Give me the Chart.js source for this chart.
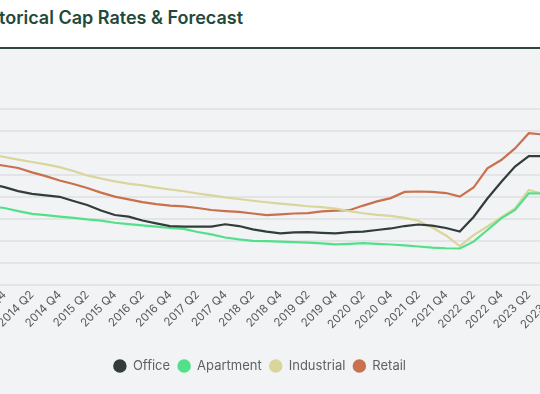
<!DOCTYPE html>
<html>
<head>
<meta charset="utf-8">
<script src="https://cdn.jsdelivr.net/npm/chart.js@4/dist/chart.umd.min.js"></script>
<style>
  html, body { margin: 0; padding: 0; }
  body { width: 540px; height: 394px; overflow: hidden; position: relative; background: #ffffff; font-family: Inter, "Noto Sans", sans-serif; }
  #title { position: absolute; top: 9px; left: -27px; white-space: nowrap; font-size: 18px; line-height: 18px; font-weight: 600; color: #1f4a3c; }
  #rule { position: absolute; top: 47px; left: 0; width: 540px; height: 2px; background: #2f4740; }
  #panel { position: absolute; top: 49px; left: 0; width: 540px; height: 345px; background: #f2f3f5; overflow: hidden; }
  #c { position: absolute; top: 0; left: -60px; }
</style>
</head>
<body>
<div id="title"><span id="cut">His</span>torical Cap Rates &amp; Forecast</div>
<div id="rule"></div>
<div id="panel"><canvas id="c" width="640" height="345"></canvas></div>
<script>
const quarters = [
  "2013 Q1","2013 Q2","2013 Q3","2013 Q4",
  "2014 Q1","2014 Q2","2014 Q3","2014 Q4",
  "2015 Q1","2015 Q2","2015 Q3","2015 Q4",
  "2016 Q1","2016 Q2","2016 Q3","2016 Q4",
  "2017 Q1","2017 Q2","2017 Q3","2017 Q4",
  "2018 Q1","2018 Q2","2018 Q3","2018 Q4",
  "2019 Q1","2019 Q2","2019 Q3","2019 Q4",
  "2020 Q1","2020 Q2","2020 Q3","2020 Q4",
  "2021 Q1","2021 Q2","2021 Q3","2021 Q4",
  "2022 Q1","2022 Q2","2022 Q3","2022 Q4",
  "2023 Q1","2023 Q2","2023 Q3","2023 Q4"
];
const office = [6.75, 6.68, 6.59, 6.45, 6.27, 6.14, 6.07, 6.01, 5.82, 5.64, 5.39, 5.18, 5.11, 4.93, 4.80, 4.68, 4.65, 4.65, 4.65, 4.76, 4.68, 4.53, 4.43, 4.35, 4.39, 4.40, 4.37, 4.35, 4.40, 4.43, 4.50, 4.57, 4.68, 4.75, 4.70, 4.59, 4.43, 5.09, 5.93, 6.68, 7.38, 7.86, 7.86, 7.86];
const apartment = [5.66, 5.62, 5.57, 5.50, 5.36, 5.23, 5.18, 5.11, 5.05, 4.98, 4.93, 4.83, 4.77, 4.71, 4.65, 4.59, 4.55, 4.41, 4.30, 4.16, 4.07, 4.01, 3.99, 3.97, 3.95, 3.93, 3.89, 3.85, 3.87, 3.90, 3.87, 3.84, 3.80, 3.75, 3.70, 3.67, 3.66, 3.97, 4.50, 5.03, 5.41, 6.17, 6.16, 6.14];
const industrial = [8.11, 8.02, 7.93, 7.82, 7.70, 7.59, 7.48, 7.36, 7.18, 6.98, 6.84, 6.71, 6.61, 6.53, 6.43, 6.34, 6.26, 6.16, 6.07, 5.98, 5.91, 5.83, 5.76, 5.70, 5.64, 5.58, 5.54, 5.47, 5.36, 5.26, 5.19, 5.14, 5.05, 4.92, 4.61, 4.25, 3.77, 4.27, 4.66, 5.07, 5.48, 6.32, 6.14, 6.09];
const retail = [7.73, 7.64, 7.52, 7.42, 7.32, 7.12, 6.95, 6.75, 6.59, 6.41, 6.20, 6.02, 5.89, 5.77, 5.68, 5.61, 5.57, 5.50, 5.41, 5.36, 5.32, 5.25, 5.18, 5.21, 5.25, 5.27, 5.35, 5.38, 5.40, 5.61, 5.80, 5.95, 6.23, 6.25, 6.23, 6.18, 6.02, 6.43, 7.30, 7.68, 8.21, 8.90, 8.84, 8.82];
const seriesNames = ["Office", "Apartment", "Industrial", "Retail"];
const seriesColors = ["#323d3a", "#52e08a", "#d9d59b", "#c9704d"];

// Cut the title so that "His" sits just off the left edge
const cut = document.getElementById('cut');
document.getElementById('title').style.left = (-cut.getBoundingClientRect().width - 1) + 'px';

const allSeries = [office, apartment, industrial, retail];
new Chart(document.getElementById('c'), {
  type: 'line',
  data: {
    labels: quarters,
    datasets: seriesNames.map((name, i) => ({
      label: name,
      data: allSeries[i],
      borderColor: seriesColors[i],
      backgroundColor: seriesColors[i],
      borderWidth: 2.2,
      pointRadius: 0,
      tension: 0,
      fill: false
    }))
  },
  options: {
    responsive: false,
    devicePixelRatio: 1,
    animation: false,
    layout: { padding: { left: 23, right: 23.6, top: 60, bottom: 11.5 } },
    plugins: {
      tooltip: { enabled: false },
      legend: {
        position: 'bottom',
        labels: {
          usePointStyle: true,
          pointStyle: 'circle',
          boxWidth: 13,
          boxHeight: 8,
          padding: 7.5,
          color: '#5e6361',
          font: { family: 'Inter', size: 13 }
        }
      }
    },
    scales: {
      x: {
        grid: { display: false, drawTicks: false },
        border: { display: false },
        ticks: {
          autoSkip: false,
          minRotation: 45,
          maxRotation: 45,
          padding: 3,
          color: '#555a58',
          font: { family: 'Inter', size: 11.5 },
          callback: function (value) {
            const l = this.getLabelForValue(value);
            return (l.endsWith('Q2') || l.endsWith('Q4')) ? l : '';
          }
        },
        afterFit: (scale) => { scale.height = 67; }
      },
      y: {
        min: 2,
        max: 10,
        ticks: { display: false, stepSize: 1 },
        grid: { color: '#e3e4e6', lineWidth: 2, drawTicks: false },
        border: { display: false },
        afterFit: (scale) => { scale.width = 0; }
      }
    }
  }
});
</script>
</body>
</html>
